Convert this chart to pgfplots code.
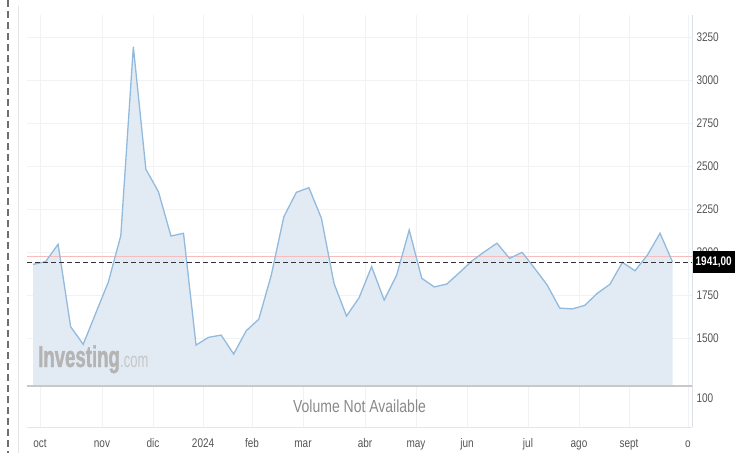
\documentclass[border=0pt]{standalone}
\usepackage{pgfplots}
\pgfplotsset{compat=1.18}
\usepackage{fontspec}
\setmainfont{Liberation Sans}
\newfontfamily\cond[FakeStretch=0.8]{Liberation Sans}
\newfontfamily\logofont[FakeStretch=0.62]{Liberation Sans}
\newfontfamily\logobold[FakeStretch=0.62,FakeBold=1.2]{Liberation Sans Bold}

\definecolor{lineblue}{HTML}{92BADD}
\definecolor{fillblue}{HTML}{E2EBF4}
\definecolor{gridc}{HTML}{F1F2F4}
\definecolor{labc}{HTML}{555555}
\definecolor{redl}{HTML}{F8BCBC}
\definecolor{sepc}{HTML}{C8C8C8}
\definecolor{botc}{HTML}{E2E5EA}
\definecolor{volc}{HTML}{8A8A8A}
\definecolor{rightc}{HTML}{DDE1E6}
\definecolor{leftc}{HTML}{E4E4E4}
\definecolor{dashc}{HTML}{6E6E6E}
\definecolor{logoc}{HTML}{B4B4B4}
\definecolor{comc}{HTML}{C6C6C6}

% weekly closes, x = week index
\pgfplotstableread{
x y
0 1928
1 1944
2 2045
3 1566
4 1463
5 1644
6 1824
7 2095
8 3194
9 2481
10 2351
11 2093
12 2109
13 1459
14 1504
15 1517
16 1407
17 1542
18 1609
19 1866
20 2205
21 2347
22 2374
23 2196
24 1818
25 1628
26 1734
27 1915
28 1721
29 1866
30 2128
31 1847
32 1797
33 1814
34 1880
35 1948
36 2002
37 2051
38 1963
39 1998
40 1905
41 1808
42 1674
43 1669
44 1690
45 1760
46 1812
47 1940
48 1891
49 1983
50 2109
51 1941
}\prices

\pgfplotsset{
  common/.style={
    scale only axis,
    anchor=south west,
    width=665pt,
    xmin=-0.48, xmax=52.55,
    axis line style={draw=none},
    major tick length=0pt,
    xtick={0.56,5.50,9.57,13.56,17.46,21.53,26.48,30.54,34.61,39.47,43.54,47.53,52.23},
    xmajorgrids=true,
    major grid style={gridc, line width=0.8pt},
    yticklabel pos=right,
    /pgf/number format/assume math mode=true,
    /pgf/number format/1000 sep={},
    ticklabel style={font=\cond\fontsize{12.5}{12.5}\selectfont, text=labc},
    yticklabel style={anchor=west, xshift=1pt},
    clip mode=individual,
  }
}

\begin{document}
\begin{tikzpicture}[x=1pt,y=1pt]
\path[use as bounding box] (0,0) rectangle (735,453);

% price panel
\begin{axis}[common,
  at={(27pt,67pt)},
  height=371pt,
  ymin=1221, ymax=3378,
  ytick={1500,1750,2000,2250,2500,2750,3000,3250},
  ymajorgrids=true,
  xticklabels={},
]
\addplot[draw=none, fill=fillblue] table[x=x,y=y] {\prices} \closedcycle;
\addplot[redl, line width=1.6pt] coordinates {(-0.48,1975) (52.55,1975)};
\addplot[lineblue, line width=1.3pt] table[x=x,y=y] {\prices};
\addplot[black!80, line width=0.9pt, dash pattern=on 5pt off 3pt] coordinates {(-0.48,1941) (52.55,1941)};
\node[fill=black, text=white, anchor=west, minimum width=43pt, minimum height=22pt, inner sep=0pt,
  font=\cond\bfseries\fontsize{12.5}{12.5}\selectfont] at (axis cs:52.55,1941) {1941,00};
\end{axis}

% volume panel
\begin{axis}[common,
  at={(27pt,26pt)},
  height=41pt,
  ymin=0, ymax=140,
  ytick={100},
  xticklabels={oct,nov,dic,2024,feb,mar,abr,may,jun,jul,ago,sept,o},
  xticklabel style={anchor=base, yshift=-20pt},
]
\draw[sepc, line width=1.2pt] (rel axis cs:0,1) -- (rel axis cs:1,1);
\draw[botc, line width=0.8pt] (rel axis cs:0,0) -- (rel axis cs:1,0);
\node[text=volc, font=\cond\fontsize{17.5}{17.5}\selectfont]
  at (rel axis cs:0.5,0.5) {Volume Not Available};
\end{axis}

% frame lines
\draw[rightc, line width=0.8pt] (692,438) -- (692,26);
\draw[leftc, line width=0.8pt] (18,447) -- (18,0);
\draw[dashc, line width=2pt, dash pattern=on 7pt off 4pt] (8,453) -- (8,0);

% watermark
\node[anchor=base west, inner sep=0pt, text=logoc,
  font=\logobold\fontsize{30}{30}\selectfont] (inv) at (38,86) {Investing};
\node[anchor=base west, inner sep=0pt, text=comc,
  font=\logofont\fontsize{21}{21}\selectfont] at (inv.base east) {.com};
\end{tikzpicture}
\end{document}
